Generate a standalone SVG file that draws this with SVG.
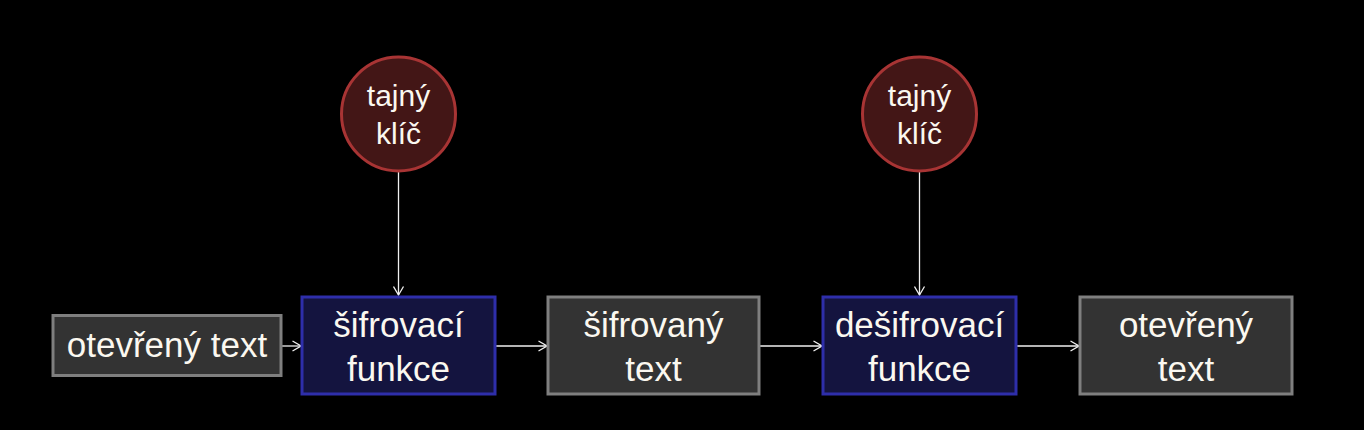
<svg xmlns="http://www.w3.org/2000/svg" width="1364" height="430" viewBox="0 0 1364 430">
  <defs>
    <style>
      .txt { font-family: "Liberation Sans", Arial, sans-serif; fill: #fbf8f0; text-anchor: middle; }
      .box-t { font-size: 35px; }
      .key-t { font-size: 30px; }
      .grey { fill: #333333; stroke: #7f7f7f; stroke-width: 3; }
      .blue { fill: #14143f; stroke: #2e2eaa; stroke-width: 3; }
      .key { fill: #431616; stroke: #a83434; stroke-width: 3; }
      .conn { stroke: #f0f0f0; stroke-width: 1.3; fill: none; }
    </style>
    <marker id="arr" viewBox="0 0 10 12" refX="9.5" refY="6" markerWidth="10" markerHeight="12" markerUnits="userSpaceOnUse" orient="auto">
      <path d="M1,1 L9.5,6 L1,11" fill="none" stroke="#f0f0f0" stroke-width="1.3"/>
    </marker>
  </defs>
  <rect width="1364" height="430" fill="#000000"/>

  <g id="connectors">
    <line class="conn" x1="282" y1="346" x2="301" y2="346" marker-end="url(#arr)"/>
    <line class="conn" x1="496" y1="346" x2="547" y2="346" marker-end="url(#arr)"/>
    <line class="conn" x1="760" y1="346" x2="822" y2="346" marker-end="url(#arr)"/>
    <line class="conn" x1="1017" y1="346" x2="1079" y2="346" marker-end="url(#arr)"/>
    <line class="conn" x1="398.5" y1="172" x2="398.5" y2="295" marker-end="url(#arr)"/>
    <line class="conn" x1="919.5" y1="172" x2="919.5" y2="295" marker-end="url(#arr)"/>
  </g>

  <g id="plain1">
    <rect class="grey" x="53" y="315.5" width="228" height="60"/>
    <text class="txt box-t" x="167" y="357">otevřený text</text>
  </g>

  <g id="encrypt">
    <rect class="blue" x="302" y="297" width="193" height="97"/>
    <text class="txt box-t" x="398.5" y="337">šifrovací</text>
    <text class="txt box-t" x="398.5" y="381">funkce</text>
  </g>

  <g id="cipher">
    <rect class="grey" x="548" y="297" width="211" height="97"/>
    <text class="txt box-t" x="653.5" y="337">šifrovaný</text>
    <text class="txt box-t" x="653.5" y="381">text</text>
  </g>

  <g id="decrypt">
    <rect class="blue" x="823" y="297" width="193" height="97"/>
    <text class="txt box-t" x="919.5" y="337">dešifrovací</text>
    <text class="txt box-t" x="919.5" y="381">funkce</text>
  </g>

  <g id="plain2">
    <rect class="grey" x="1080" y="297" width="212" height="97"/>
    <text class="txt box-t" x="1186" y="337">otevřený</text>
    <text class="txt box-t" x="1186" y="381">text</text>
  </g>

  <g id="key1">
    <circle class="key" cx="398.5" cy="114" r="57"/>
    <text class="txt key-t" x="398.5" y="106">tajný</text>
    <text class="txt key-t" x="398.5" y="144">klíč</text>
  </g>

  <g id="key2">
    <circle class="key" cx="919.5" cy="114" r="57"/>
    <text class="txt key-t" x="919.5" y="106">tajný</text>
    <text class="txt key-t" x="919.5" y="144">klíč</text>
  </g>
</svg>
